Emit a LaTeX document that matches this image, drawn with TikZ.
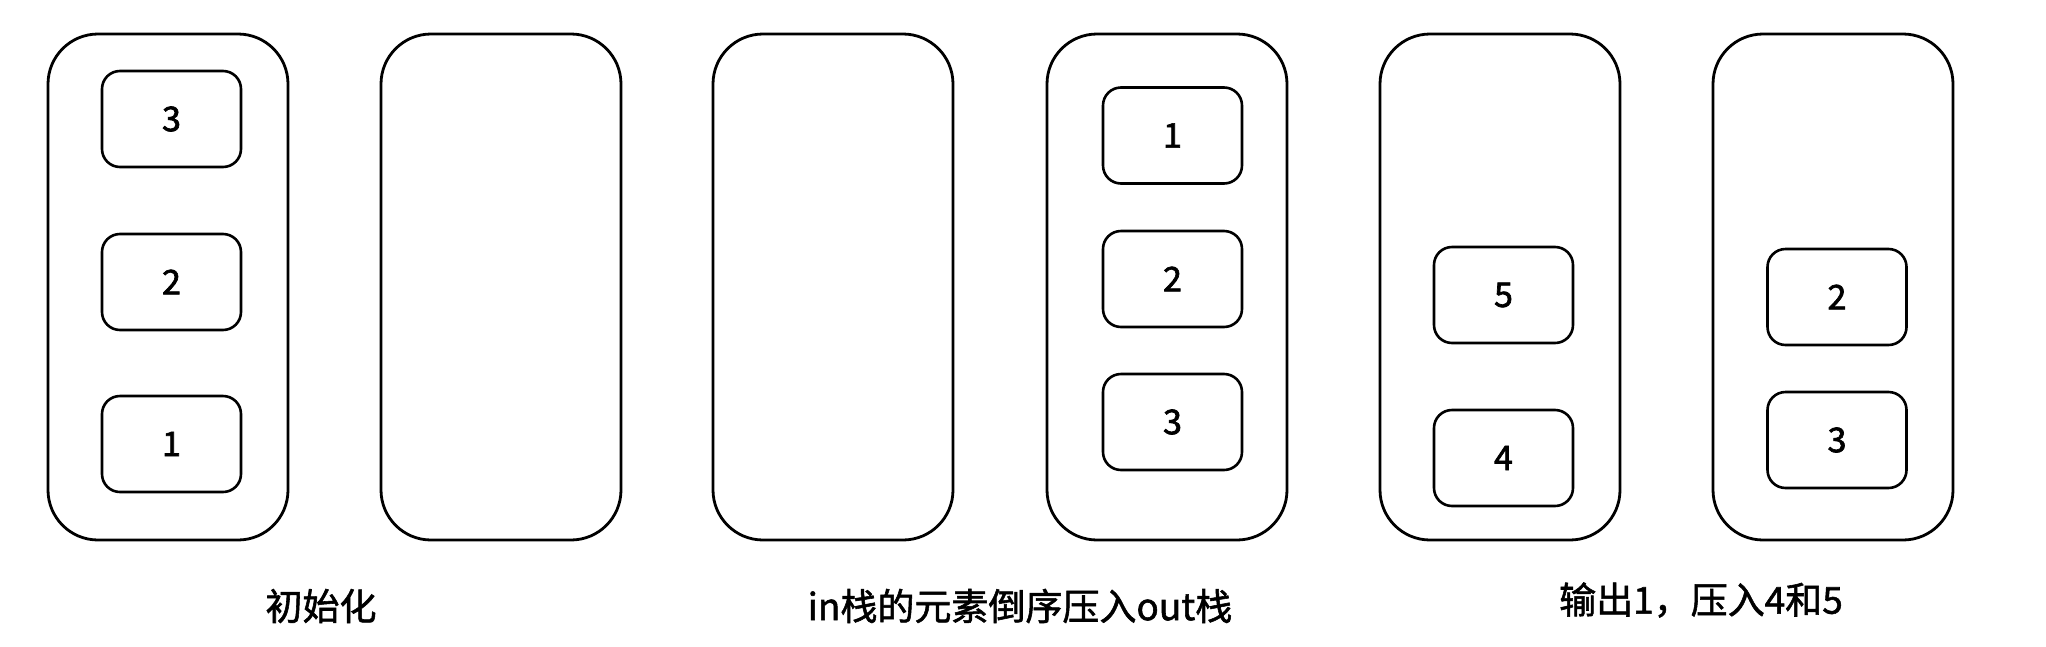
\documentclass[tikz,border=0pt]{standalone}
\usepackage{fontspec}
\setmainfont{Noto Sans CJK SC}
\newfontfamily\cjk[FakeBold=1.5]{Noto Sans CJK SC}
\newfontfamily\digitfont[FakeBold=2]{Noto Sans CJK SC}
\begin{document}
\begin{tikzpicture}[x=1pt,y=-1pt,
  stackbox/.style={draw=black,line width=2.8pt,rounded corners=50pt,minimum width=240pt,minimum height=506pt,inner sep=0pt},
  itembox/.style={draw=black,line width=2.6pt,rounded corners=18pt,minimum width=139pt,minimum height=96pt,inner sep=0pt,font=\digitfont\fontsize{34}{38}\selectfont},
  caption/.style={font=\cjk\fontsize{37}{40}\selectfont,inner sep=0pt}]
\useasboundingbox[fill=white] (0,0) rectangle (2046,646);
% stacks
\node[stackbox] (s1) at (168,287) {};
\node[stackbox] (s2) at (501,287) {};
\node[stackbox] (s3) at (833,287) {};
\node[stackbox] (s4) at (1167,287) {};
\node[stackbox] (s5) at (1500,287) {};
\node[stackbox] (s6) at (1833,287) {};
% stack 1 items
\node[itembox] (a3) at (171.5,119) {3};
\node[itembox] (a2) at (171.5,282) {2};
\node[itembox] (a1) at (171.5,444) {1};
% stack 4 items
\node[itembox] (b1) at (1172.5,135.5) {1};
\node[itembox] (b2) at (1172.5,279) {2};
\node[itembox] (b3) at (1172.5,422) {3};
% stack 5 items
\node[itembox] (c5) at (1503.5,295) {5};
\node[itembox] (c4) at (1503.5,458) {4};
% stack 6 items
\node[itembox] (d2) at (1837,297) {2};
\node[itembox] (d3) at (1837,440) {3};
% captions
\node[caption] (t1) at (321,606) {初始化};
\node[caption] (t2) at (1020,606) {in栈的元素倒序压入out栈};
\node[caption] (t3) at (1701,600) {输出1，压入4和5};
\end{tikzpicture}
\end{document}
